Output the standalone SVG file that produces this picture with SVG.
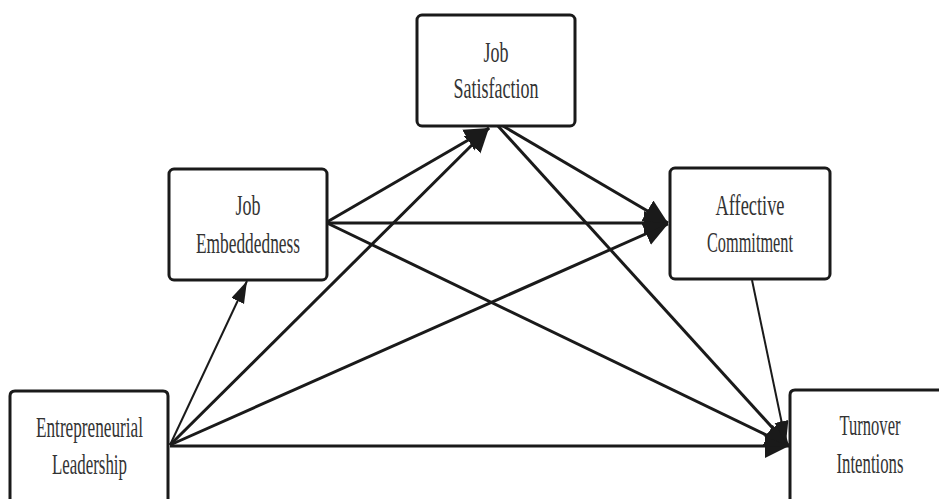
<svg xmlns="http://www.w3.org/2000/svg" width="939" height="499" viewBox="0 0 939 499">
<defs>
<style>
.box{fill:#fff;stroke:#1a1a1a;stroke-width:3}
.lbl{font-family:"Liberation Serif","Times New Roman",serif;font-size:29px;fill:#333;text-anchor:middle}
.c{stroke:#1a1a1a;stroke-width:3;fill:none;marker-end:url(#ah)}
.t{stroke:#1a1a1a;stroke-width:2;fill:none;marker-end:url(#ahs)}
</style>
<marker id="ah" markerUnits="userSpaceOnUse" markerWidth="26" markerHeight="26" refX="24" refY="12" orient="auto" viewBox="0 0 26 26">
<path d="M0,0 L24,12 L0,24 z" fill="#1a1a1a"/>
</marker>
<marker id="ahs" markerUnits="userSpaceOnUse" markerWidth="24" markerHeight="16" refX="22" refY="7" orient="auto" viewBox="0 0 24 16">
<path d="M0,0 L22,7 L0,14 z" fill="#1a1a1a"/>
</marker>
</defs>
<rect width="939" height="499" fill="#fff"/>
<g id="connectors">
<path class="c" d="M170,445 L489,128"/>
<path class="c" d="M327,222 L489,128"/>
<path class="c" d="M170,445 L668,224"/>
<path class="c" d="M327,223 L668,223"/>
<path class="c" d="M503,126 L668,223"/>
<path class="c" d="M170,446 L789,446"/>
<path class="c" d="M327,223 L789,446"/>
<path class="c" d="M498,126 L789,446"/>
<path class="t" d="M752,280 L786,443"/>
<path class="t" d="M170,445 L247,281"/>
</g>
<g id="entrepreneurial-leadership">
<path class="box" d="M10,499 V396 Q10,391 15,391 H163 Q168,391 168,396 V499"/>
<text class="lbl" x="89.5" y="437" textLength="107" lengthAdjust="spacingAndGlyphs">Entrepreneurial</text>
<text class="lbl" x="89.5" y="474" textLength="75" lengthAdjust="spacingAndGlyphs">Leadership</text>
</g>
<g id="job-embeddedness">
<rect class="box" x="169" y="169" width="158" height="111" rx="5"/>
<text class="lbl" x="248" y="215" textLength="25" lengthAdjust="spacingAndGlyphs">Job</text>
<text class="lbl" x="248" y="253" textLength="104" lengthAdjust="spacingAndGlyphs">Embeddedness</text>
</g>
<g id="job-satisfaction">
<rect class="box" x="417" y="15" width="158" height="111" rx="5"/>
<text class="lbl" x="496" y="62" textLength="25" lengthAdjust="spacingAndGlyphs">Job</text>
<text class="lbl" x="496" y="98" textLength="85" lengthAdjust="spacingAndGlyphs">Satisfaction</text>
</g>
<g id="affective-commitment">
<rect class="box" x="670" y="168" width="160" height="111" rx="5"/>
<text class="lbl" x="750" y="215" textLength="69" lengthAdjust="spacingAndGlyphs">Affective</text>
<text class="lbl" x="750" y="252" textLength="86" lengthAdjust="spacingAndGlyphs">Commitment</text>
</g>
<g id="turnover-intentions">
<path class="box" d="M939,390 H795 Q790,390 790,395 V499"/>
<text class="lbl" x="870" y="435" textLength="61" lengthAdjust="spacingAndGlyphs">Turnover</text>
<text class="lbl" x="870" y="473" textLength="67" lengthAdjust="spacingAndGlyphs">Intentions</text>
</g>
</svg>
